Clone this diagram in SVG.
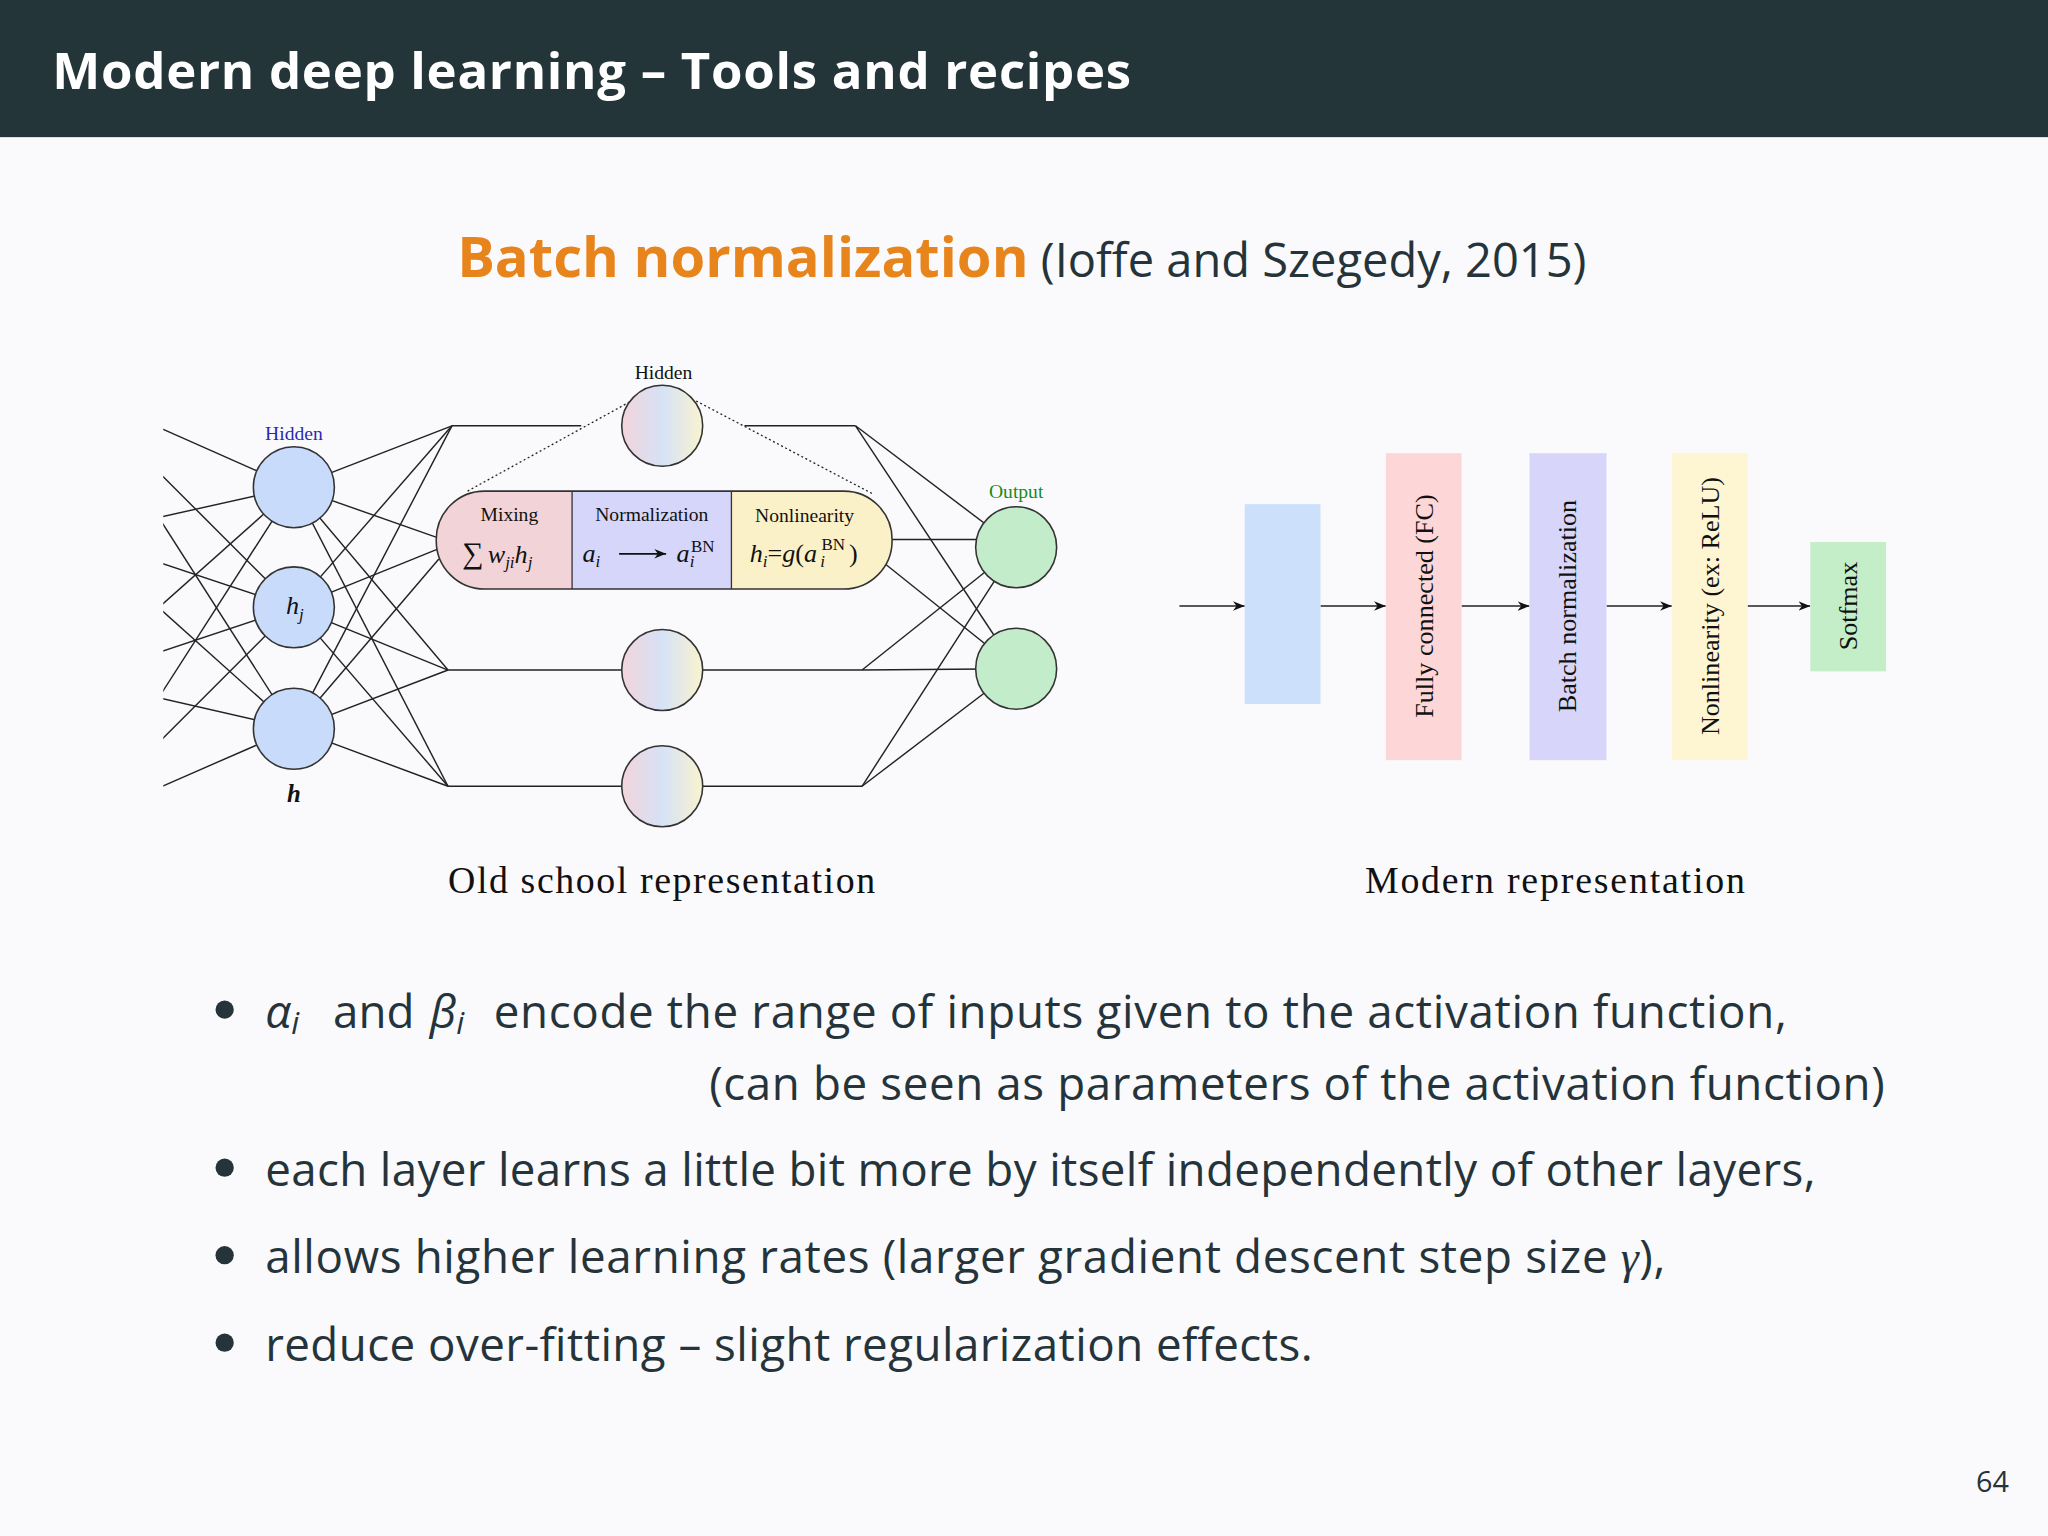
<svg xmlns="http://www.w3.org/2000/svg" width="2048" height="1536" viewBox="0 0 2048 1536">
<defs>
<linearGradient id="hg" x1="0" x2="1" y1="0" y2="0"><stop offset="0" stop-color="#f2d4dc"/><stop offset="0.5" stop-color="#d6e2f6"/><stop offset="1" stop-color="#f9f3d0"/></linearGradient>
<marker id="ar" viewBox="0 0 10 10" refX="10" refY="5" markerWidth="9" markerHeight="9" markerUnits="userSpaceOnUse" orient="auto"><path d="M0,1 L10,5 L0,9 L3,5 Z" fill="#111"/></marker>
<clipPath id="lc"><rect x="125" y="300" width="400" height="320"/></clipPath>
<style>
.s{font-family:"Liberation Serif",serif;fill:#111}
.m{font-family:"Liberation Serif",serif;font-style:italic;fill:#111}
.b{font-family:"Open Sans","Liberation Sans",sans-serif;fill:#25343a;font-size:35px}
.ln{stroke:#222;stroke-width:1.1;fill:none}
.nd{stroke:#333;stroke-width:1.2}
.blue{fill:#c9dbfa}
.grn{fill:#c2ecca}
.hid{fill:url(#hg)}
</style>
</defs>
<g transform="scale(1.306122)">
<rect width="1568" height="1176" fill="#fafafc"/>
<rect width="1568" height="105" fill="#243539"/>
<text x="40" y="68" font-family="Open Sans, Liberation Sans, sans-serif" font-weight="bold" font-size="39" fill="#fff" textLength="826">Modern deep learning – Tools and recipes</text>
<text x="350" y="212" font-family="Open Sans, Liberation Sans, sans-serif" font-size="36" fill="#25343a"><tspan font-weight="bold" font-size="43" fill="#e8841c">Batch normalization</tspan> (Ioffe and Szegedy, 2015)</text>

<g id="connectors">
<g clip-path="url(#lc)">
<line class="ln" x1="60" y1="300" x2="225" y2="373"/><line class="ln" x1="60" y1="300" x2="225" y2="465"/><line class="ln" x1="60" y1="300" x2="225" y2="558"/>
<line class="ln" x1="60" y1="410" x2="225" y2="373"/><line class="ln" x1="60" y1="410" x2="225" y2="465"/><line class="ln" x1="60" y1="410" x2="225" y2="558"/>
<line class="ln" x1="60" y1="520" x2="225" y2="373"/><line class="ln" x1="60" y1="520" x2="225" y2="465"/><line class="ln" x1="60" y1="520" x2="225" y2="558"/>
<line class="ln" x1="60" y1="630" x2="225" y2="373"/><line class="ln" x1="60" y1="630" x2="225" y2="465"/><line class="ln" x1="60" y1="630" x2="225" y2="558"/>
</g>
<line class="ln" x1="225" y1="373" x2="346" y2="326"/><line class="ln" x1="225" y1="373" x2="336" y2="412"/><line class="ln" x1="225" y1="373" x2="343" y2="513"/><line class="ln" x1="225" y1="373" x2="343" y2="602"/>
<line class="ln" x1="225" y1="465" x2="346" y2="326"/><line class="ln" x1="225" y1="465" x2="336" y2="420"/><line class="ln" x1="225" y1="465" x2="343" y2="513"/><line class="ln" x1="225" y1="465" x2="343" y2="602"/>
<line class="ln" x1="225" y1="558" x2="346" y2="326"/><line class="ln" x1="225" y1="558" x2="336" y2="428"/><line class="ln" x1="225" y1="558" x2="343" y2="513"/><line class="ln" x1="225" y1="558" x2="343" y2="602"/>
<line class="ln" x1="346" y1="326" x2="445" y2="326"/><line class="ln" x1="570" y1="326" x2="655" y2="326"/>
<line class="ln" x1="343" y1="513" x2="660" y2="513"/><line class="ln" x1="343" y1="602" x2="660" y2="602"/>
<line x1="358" y1="376" x2="487" y2="305" stroke="#222" stroke-dasharray="1.5,2"/>
<line x1="533" y1="307" x2="668" y2="378" stroke="#222" stroke-dasharray="1.5,2"/>
<line class="ln" x1="655" y1="326" x2="778" y2="419"/><line class="ln" x1="655" y1="326" x2="778" y2="512"/>
<line class="ln" x1="683" y1="413" x2="778" y2="413"/><line class="ln" x1="678" y1="432" x2="778" y2="512"/>
<line class="ln" x1="660" y1="513" x2="778" y2="419"/><line class="ln" x1="660" y1="513" x2="778" y2="512"/>
<line class="ln" x1="660" y1="602" x2="778" y2="419"/><line class="ln" x1="660" y1="602" x2="778" y2="512"/>
<line class="ln" x1="903" y1="464" x2="953" y2="464" marker-end="url(#ar)"/>
<line class="ln" x1="1011" y1="464" x2="1061" y2="464" marker-end="url(#ar)"/>
<line class="ln" x1="1119" y1="464" x2="1171" y2="464" marker-end="url(#ar)"/>
<line class="ln" x1="1230" y1="464" x2="1280" y2="464" marker-end="url(#ar)"/>
<line class="ln" x1="1338" y1="464" x2="1386" y2="464" marker-end="url(#ar)"/>
</g>

<g id="in1"><ellipse class="nd blue" cx="225" cy="373" rx="31" ry="31"/></g>
<g id="in2"><ellipse class="nd blue" cx="225" cy="465" rx="31" ry="31"/><text class="m" x="219" y="470" font-size="20">h<tspan font-size="13" dy="5">j</tspan></text></g>
<g id="in3"><ellipse class="nd blue" cx="225" cy="558" rx="31" ry="31"/></g>
<text x="225" y="337" font-family="Liberation Serif,serif" font-size="15" fill="#2a2ab0" text-anchor="middle">Hidden</text>
<text x="225" y="614" class="m" font-size="19" font-weight="bold" text-anchor="middle">h</text>

<g id="h1"><ellipse class="nd hid" cx="507" cy="326" rx="31" ry="31"/><text class="s" x="508" y="290" font-size="15" text-anchor="middle">Hidden</text></g>
<g id="h2"><ellipse class="nd hid" cx="507" cy="513" rx="31" ry="31"/></g>
<g id="h3"><ellipse class="nd hid" cx="507" cy="602" rx="31" ry="31"/></g>

<g id="pill">
<clipPath id="pc"><rect x="334" y="376" width="349" height="75" rx="37"/></clipPath>
<g clip-path="url(#pc)">
<rect x="334" y="376" width="104" height="75" fill="#f2d4d8"/>
<rect x="438" y="376" width="122" height="75" fill="#d5d6fa"/>
<rect x="560" y="376" width="123" height="75" fill="#fbf1c8"/>
</g>
<rect x="334" y="376" width="349" height="75" rx="37" fill="none" stroke="#333" stroke-width="1.2"/>
<line x1="438" y1="376" x2="438" y2="451" stroke="#333"/><line x1="560" y1="376" x2="560" y2="451" stroke="#333"/>
<text class="s" x="390" y="399" font-size="15" text-anchor="middle">Mixing</text>
<text class="s" x="499" y="399" font-size="15" text-anchor="middle">Normalization</text>
<text class="s" x="616" y="400" font-size="15" text-anchor="middle">Nonlinearity</text>
<text class="m" x="354" y="431" font-size="20"><tspan font-style="normal" font-size="23">∑</tspan><tspan dx="3">w</tspan><tspan font-size="13" dy="4">ji</tspan><tspan dy="-4">h</tspan><tspan font-size="13" dy="4">j</tspan></text>
<text class="m" x="446" y="430" font-size="20">a<tspan font-size="13" dy="4">i</tspan></text>
<line x1="474" y1="424" x2="510" y2="424" stroke="#111" stroke-width="1.3" marker-end="url(#ar)"/>
<text class="m" x="518" y="430" font-size="20">a<tspan font-size="13" dy="4">i</tspan></text>
<text class="s" x="529" y="423" font-size="13">BN</text>
<text class="m" x="574" y="430" font-size="20">h<tspan font-size="13" dy="4">i</tspan><tspan font-style="normal" dy="-4">=</tspan>g<tspan font-style="normal">(</tspan>a</text>
<text class="m" x="628" y="434" font-size="13">i</text>
<text class="s" x="629" y="421" font-size="13">BN</text>
<text class="s" x="650" y="430" font-size="20">)</text>
</g>

<g id="o1"><ellipse class="nd grn" cx="778" cy="419" rx="31" ry="31"/><text x="778" y="381" font-family="Liberation Serif,serif" font-size="15" fill="#1a8a1a" text-anchor="middle">Output</text></g>
<g id="o2"><ellipse class="nd grn" cx="778" cy="512" rx="31" ry="31"/></g>
<text class="s" x="343" y="684" font-size="29" textLength="327">Old school representation</text>

<g id="r0"><rect x="953" y="386" width="58" height="153" fill="#cce0fb"/></g>
<g id="r1"><rect x="1061" y="347" width="58" height="235" fill="#fdd7d7"/><text class="s" font-size="20" text-anchor="middle" transform="translate(1097,464) rotate(-90)">Fully connected (FC)</text></g>
<g id="r2"><rect x="1171" y="347" width="59" height="235" fill="#d7d6fa"/><text class="s" font-size="20" text-anchor="middle" transform="translate(1207,464) rotate(-90)">Batch normalization</text></g>
<g id="r3"><rect x="1280" y="347" width="58" height="235" fill="#fef5d2"/><text class="s" font-size="20" text-anchor="middle" transform="translate(1316,464) rotate(-90)">Nonlinearity (ex: ReLU)</text></g>
<g id="r4"><rect x="1386" y="415" width="58" height="99" fill="#c3eec8"/><text class="s" font-size="20" text-anchor="middle" transform="translate(1422,464) rotate(-90)">Sotfmax</text></g>
<text class="s" x="1045" y="684" font-size="29" textLength="291">Modern representation</text>

<g fill="#25343a"><circle cx="172" cy="773" r="7"/><circle cx="172" cy="894" r="7"/><circle cx="172" cy="961" r="7"/><circle cx="172" cy="1028" r="7"/></g>
<text class="b" x="203" y="787" font-family="Liberation Serif,serif" font-style="italic">α<tspan font-size="24" dy="5">i</tspan></text>
<text class="b" x="255" y="787">and</text>
<text class="b" x="329" y="787" font-family="Liberation Serif,serif" font-style="italic">β<tspan font-size="24" dy="5">i</tspan></text>
<text class="b" x="378" y="787" textLength="990">encode the range of inputs given to the activation function,</text>
<text class="b" x="543" y="842" textLength="900">(can be seen as parameters of the activation function)</text>
<text class="b" x="203" y="908" textLength="1187">each layer learns a little bit more by itself independently of other layers,</text>
<text class="b" x="203" y="975" textLength="1072">allows higher learning rates (larger gradient descent step size <tspan font-family="Liberation Serif,serif" font-style="italic">γ</tspan>),</text>
<text class="b" x="203" y="1042" textLength="802">reduce over-fitting – slight regularization effects.</text>
<text x="1538" y="1142" font-family="Open Sans,Liberation Sans,sans-serif" font-size="22" fill="#25343a" text-anchor="end">64</text>
</g>
</svg>
